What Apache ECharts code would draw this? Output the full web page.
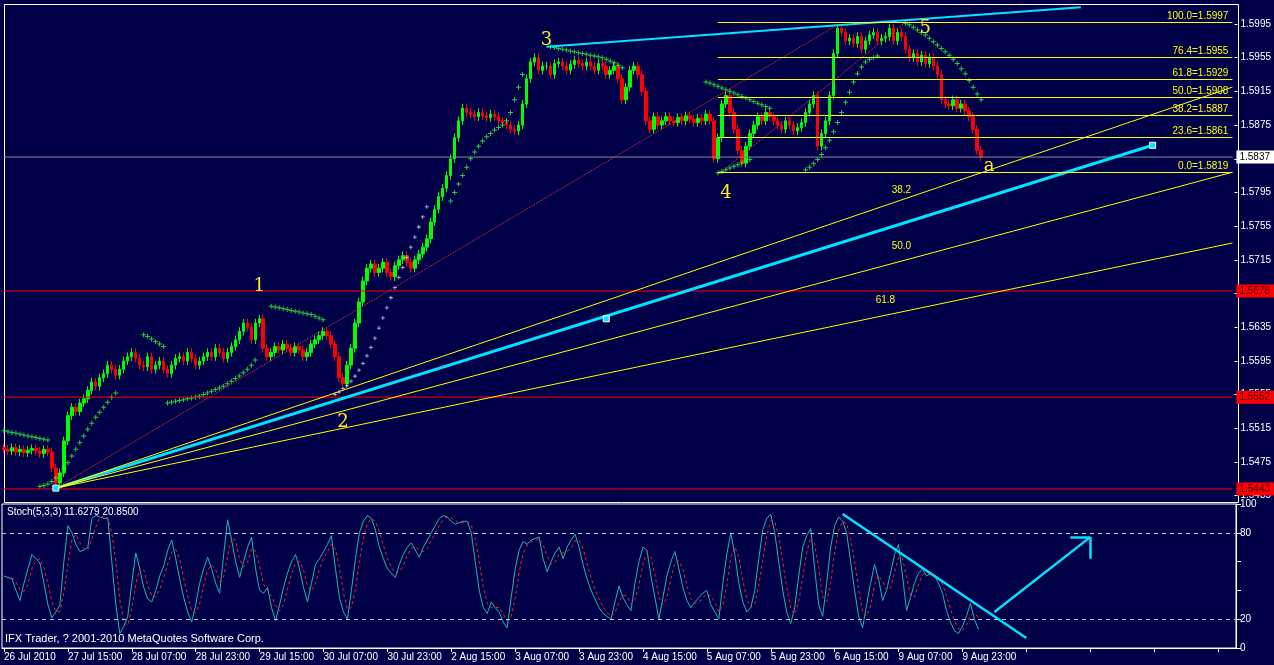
<!DOCTYPE html>
<html><head><meta charset="utf-8">
<script src="https://cdn.jsdelivr.net/npm/echarts@6/dist/echarts.min.js"></script>
<style>html,body{margin:0;padding:0;background:#000048;}#c{width:1274px;height:665px;}</style>
</head><body><div id="c"></div>
<script>
// ---- data ----
const closes = [1.5490,1.5488,1.5492,1.5487,1.5490,1.5486,1.5489,1.5491,1.5488,1.5485,1.5490,1.5487,
1.5468,1.5450,1.5462,1.5500,1.5530,1.5540,1.5535,1.5545,
1.5550,1.5560,1.5570,1.5565,1.5575,1.5580,1.5590,1.5585,1.5578,1.5585,1.5595,
1.5600,1.5605,1.5598,1.5590,1.5588,1.5600,1.5585,
1.5590,1.5595,1.5585,1.5580,1.5590,1.5598,1.5600,1.5595,1.5605,1.5598,1.5590,1.5595,1.5600,1.5605,1.5600,1.5610,1.5605,1.5598,1.5605,1.5612,1.5620,
1.5630,1.5640,1.5635,1.5620,1.5640,1.5645,1.5610,1.5600,
1.5605,1.5612,1.5608,1.5615,1.5610,1.5605,1.5612,1.5608,1.5600,1.5605,1.5615,1.5620,1.5625,1.5630,1.5625,1.5615,1.5600,
1.5575,1.5568,1.5590,1.5610,
1.5640,1.5665,1.5690,1.5705,1.5710,1.5700,
1.5705,1.5712,1.5700,1.5695,1.5708,1.5715,1.5720,1.5712,1.5705,1.5715,1.5722,1.5730,1.5740,
1.5760,1.5775,1.5790,1.5800,1.5815,1.5835,
1.5860,1.5880,1.5895,1.5890,
1.5888,1.5885,1.5890,1.5886,1.5884,1.5888,1.5885,1.5880,1.5878,1.5875,1.5870,
1.5868,1.5875,1.5900,1.5930,1.5950,1.5955,1.5940,1.5945,
1.5945,1.5935,1.5948,1.5950,1.5945,1.5940,1.5947,1.5952,1.5948,1.5945,1.5950,1.5945,1.5940,1.5948,1.5945,1.5935,1.5940,1.5945,1.5930,
1.5905,1.5920,1.5940,1.5945,1.5935,1.5915,
1.5880,1.5870,1.5885,1.5875,1.5880,1.5885,1.5880,1.5878,1.5884,1.5880,1.5886,1.5882,1.5878,1.5883,1.5880,1.5888,1.5880,
1.5835,1.5860,1.5900,
1.5910,1.5890,1.5870,1.5845,1.5830,
1.5850,1.5865,1.5875,1.5885,1.5880,1.5890,1.5885,1.5880,
1.5875,1.5870,1.5880,1.5875,1.5868,1.5872,1.5878,1.5890,1.5900,1.5910,
1.5850,1.5865,1.5880,1.5910,
1.5960,1.5990,1.5985,1.5975,1.5978,1.5972,1.5980,
1.5965,1.5975,1.5982,1.5985,1.5975,1.5978,1.5980,1.5990,1.5975,1.5985,1.5980,
1.5965,1.5955,1.5960,1.5950,1.5958,1.5948,1.5955,1.5945,1.5935,1.5905,1.5900,
1.5898,1.5905,1.5895,1.5900,1.5892,1.5885,1.5870,1.5845,1.5837];

const stochK = [50,49,48,40,33, 45,55,65,62,59, 45,30,21,25,30, 60,85,80,72,67,
68,70,90,92,91, 90,90,60,30,10, 15,22,45,66,55, 42,34,32,40,50,
57,68,75,62,48, 35,25,18,30,45, 55,63,55,45,38, 65,89,75,60,49,
60,70,77,55,40, 38,42,28,19,30, 42,52,60,65,55, 42,32,45,58,62,
67,72,78,55,35, 25,20,40,62,80, 88,92,90,82,70, 62,55,52,49,58,
65,70,73,68,63, 70,75,80,85,90, 92,91,88,86,87, 88,88,80,60,40,
28,24,32,28,25, 18,14,35,55,68, 74,72,75,76,77, 62,53,60,66,70,
62,70,75,79,70, 58,48,40,34,28, 24,22,20,32,43, 35,30,26,45,60,70,
68,50,35,20,35, 50,60,67,55,42, 33,28,32,35,38, 40,30,25,20,45,
65,80,65,45,32, 25,28,40,62,82,90, 93,80,60,40,25, 17,28,50,70,78,
83,55,30,22,45, 70,85,91,88,80, 60,40,22,14,30, 45,58,48,33,40,
52,65,72,50,26, 35,45,52,55,50, 52,50,45,38,26,18, 12,10,15,22,31, 20,13];

const sarStart = [0,9,35,41,67,112,137,176,179,201,226];
const sarVals = [
[1.5512,1.5511,1.5510,1.5509,1.5508,1.5507,1.5506,1.5505,1.5504,1.5503,1.5502,1.5501],
[1.5446,1.5447,1.5449,1.5452,1.5456,1.5461,1.5467,1.5474,1.5482,1.5490,1.5498,1.5506,1.5514,1.5521,1.5528,1.5534,1.5540,1.5546,1.5552,1.5557],
[1.5626,1.5624,1.5621,1.5618,1.5615,1.5612],
[1.5545,1.5546,1.5547,1.5548,1.5549,1.5550,1.5551,1.5552,1.5553,1.5555,1.5557,1.5559,1.5561,1.5563,1.5565,1.5568,1.5571,1.5574,1.5577,1.5581,1.5585,1.5590,1.5596],
[1.5660,1.5659,1.5658,1.5657,1.5656,1.5655,1.5654,1.5653,1.5652,1.5651,1.5650,1.5648,1.5646,1.5644],
[1.5785,1.5795,1.5805,1.5815,1.5825,1.5835,1.5843,1.5850,1.5856,1.5861,1.5865,1.5869,1.5872,1.5875,1.5880,1.5890,1.5905,1.5920,1.5935],
[1.5968,1.5967,1.5966,1.5965,1.5964,1.5963,1.5962,1.5961,1.5960,1.5959,1.5958,1.5957,1.5956,1.5955,1.5953,1.5951,1.5949,1.5946,1.5943],
[1.5926,1.5925,1.5923,1.5921,1.5919,1.5917,1.5915,1.5913,1.5911,1.5909,1.5907,1.5905,1.5903,1.5901,1.5899,1.5897,1.5895],
[1.5818,1.5820,1.5822,1.5824,1.5826,1.5828,1.5830,1.5832,1.5834],
[1.5822,1.5825,1.5829,1.5834,1.5840,1.5848,1.5857,1.5867,1.5878,1.5890,1.5902,1.5914,1.5926,1.5936,1.5944,1.5950,1.5953,1.5955,1.5957],
[1.5996,1.5994,1.5991,1.5988,1.5985,1.5982,1.5978,1.5974,1.5970,1.5966,1.5962,1.5958,1.5953,1.5948,1.5942,1.5936,1.5928,1.5920,1.5912,1.5905]];
const whiteSarStart = 83;
const whiteSar = [1.5555,1.5558,1.5562,1.5566,1.5571,1.5577,1.5584,1.5592,1.5601,1.5611,1.5622,1.5634,1.5646,1.5658,1.5670,1.5682,1.5694,1.5706,1.5718,1.5730,1.5742,1.5754,1.5766,1.5778];

const timeLabels = ['26 Jul 2010','27 Jul 15:00','28 Jul 07:00','28 Jul 23:00','29 Jul 15:00','30 Jul 07:00','30 Jul 23:00','2 Aug 15:00','3 Aug 07:00','3 Aug 23:00','4 Aug 15:00','5 Aug 07:00','5 Aug 23:00','6 Aug 15:00','9 Aug 07:00','9 Aug 23:00'];
const priceMin = 1.5435, priceMax = 1.6015, priceStep = 0.0040;
const fibLevels = [100.0,76.4,61.8,50.0,38.2,23.6,0.0];
const fibPrices = [1.5997,1.5955,1.5929,1.5908,1.5887,1.5861,1.5819];
const redLevels = [1.5678,1.5552,1.5443];
const currentPrice = 1.5837;
const NBARS = 309;

// ---- build ----
const cats = []; for (let i=0;i<NBARS;i++) cats.push(String(i));
const ohlc = closes.map((c,i)=>{
  const o = i===0 ? c+0.0002 : closes[i-1];
  return [o, c, Math.min(o,c)-0.0005, Math.max(o,c)+0.0005];
});
const sarPts = [];
sarStart.forEach((s,k)=>sarVals[k].forEach((v,j)=>sarPts.push([s+j,v])));
const wSarPts = whiteSar.map((v,j)=>[whiteSarStart+j,v]);
const stochD = stochK.map((v,i)=> i<2 ? null : +( (stochK[i]+stochK[i-1]+stochK[i-2])/3 ).toFixed(2));

const Y = '#ffff00', CY = '#00e5ff';
const FONT = 'Liberation Sans';
const seg = (a,b,color,width,type)=>[{coord:a, lineStyle:{color:color,width:width,type:type||'solid'}},{coord:b}];
const lines = [
  seg([136,1.5968],[270,1.6015],CY,2),
  seg([13,1.5444],[288,1.5851],CY,3),
  seg([13,1.5444],[308,1.5920],Y,1),
  seg([13,1.5444],[308,1.5819],Y,1),
  seg([13,1.5444],[308,1.5735],Y,1),
  seg([13,1.5444],[209,1.5994],'#ff3030',1,'dotted'),
  seg([180,1.5820],[226,1.5997],'#ff3030',1,'dotted'),
];
fibLevels.forEach((f,i)=>{
  lines.push([{coord:[178.5,fibPrices[i]],lineStyle:{color:Y,width:1,type:'solid'},
    label:{show:true,position:'insideEndTop',formatter:f.toFixed(1)+'='+fibPrices[i].toFixed(4),color:Y,fontSize:10,fontFamily:FONT,distance:[4,1]}},
    {coord:[308,fibPrices[i]]}]);
});
// horizontal level lines as separate line series
const levelSeries = (p,lineColor,bg,fg)=>({type:'line',xAxisIndex:0,yAxisIndex:0,data:[[0,p],[NBARS-1,p]],symbol:'none',silent:true,z:3,
  lineStyle:{color:lineColor,width:1,type:'solid'},
  endLabel:{show:true,formatter:p.toFixed(4),color:fg,backgroundColor:bg,fontSize:10,fontFamily:FONT,padding:[2,4,1,3],distance:4}});
const levels = redLevels.map(p=>levelSeries(p,'#ff0000','#ff0000','#500000')).concat([levelSeries(currentPrice,'#8a8a8a','#ffffff','#000000')]);

const waves = [['1',63.5,1.5683],['2',85,1.5522],['3',136,1.5976],['4',181,1.5794],['5',231,1.5990],['a',247,1.5826]];
const fanLbl = [['38.2',225,1.5798],['50.0',225,1.5731],['61.8',221,1.5667]];
const mpts = waves.map(w=>({coord:[w[1],w[2]],value:w[0],label:{fontFamily:'DejaVu Serif',fontSize:18,color:'#ffee22'}}))
  .concat(fanLbl.map(w=>({coord:[w[1],w[2]],value:w[0],label:{fontFamily:FONT,fontSize:10,color:Y}})));
const squares = [[13,1.5444],[288,1.5851],[150.5,1.5645]].map(p=>({coord:p,value:'',symbol:'rect',symbolSize:6,itemStyle:{color:CY,borderColor:'#fff',borderWidth:1}}));

const stochLines = [
  {yAxis:80,lineStyle:{color:'#c8c8c8',type:[4,4],width:1},label:{show:false}},
  {yAxis:20,lineStyle:{color:'#c8c8c8',type:[4,4],width:1},label:{show:false}},
  seg([210,93],[256,7],CY,2.5),
  seg([248,25],[272,77],CY,2.5),
  seg([267,77],[272,77],CY,2.5),
  seg([272,77],[272,62],CY,2.5),
];

// price grid placed so that the axis min lands on a tick (frame drawn separately)
const frameTop = 2, frameH = 498, visMin = 1.54299, visMax = 1.60211;
const pxPer = frameH/(visMax-visMin);
const gTop = frameTop + (visMax-priceMax)*pxPer;
const gH = (priceMax-priceMin)*pxPer;

const chart = echarts.init(document.getElementById('c'));
chart.setOption({
  backgroundColor:'#000048', animation:false,
  grid:[{left:2,right:38,top:gTop,height:gH,show:false},
        {left:2,right:38,top:504,height:144,show:true,borderColor:'#fff',borderWidth:1}],
  xAxis:[
    {type:'category',gridIndex:0,data:cats,boundaryGap:true,axisLabel:{show:false},axisTick:{show:false},axisLine:{show:false},splitLine:{show:false}},
    {type:'category',gridIndex:1,data:cats,boundaryGap:true,axisLine:{show:true,lineStyle:{color:'#fff'}},
      axisTick:{show:true,alignWithLabel:true,interval:(i)=>i%16===0,lineStyle:{color:'#fff'},length:4},
      axisLabel:{show:true,interval:(i)=>i%16===0,formatter:(v)=>timeLabels[(+v)/16]||'',color:'#fff',fontSize:10,fontFamily:FONT,align:'left',margin:4}}
  ],
  yAxis:[
    {type:'value',gridIndex:0,position:'right',min:priceMin,max:priceMax,interval:priceStep,splitLine:{show:false},
      axisTick:{show:true,length:3,lineStyle:{color:'#fff'}},axisLine:{show:false},
      axisLabel:{show:true,showMaxLabel:false,color:'#fff',fontSize:10,fontFamily:FONT,margin:6,formatter:(v)=>v.toFixed(4)}},
    {type:'value',gridIndex:1,position:'right',min:0,max:100,interval:20,splitLine:{show:false},axisLine:{show:true,lineStyle:{color:'#fff'}},
      axisTick:{show:true,lineStyle:{color:'#fff'}},
      axisLabel:{color:'#fff',fontSize:10,fontFamily:FONT,margin:4,showMinLabel:true,showMaxLabel:true,formatter:(v)=>(v===0||v===20||v===80||v===100)?String(v):''}}
  ],
  series:[
    {type:'candlestick',xAxisIndex:0,yAxisIndex:0,data:ohlc,barWidth:3,
      itemStyle:{color:'#00ff00',color0:'#ff0000',borderColor:'#00ff00',borderColor0:'#ff0000',borderWidth:1},
      markLine:{silent:true,precision:4,symbol:['none','none'],animation:false,data:lines},
      markPoint:{silent:true,symbol:'rect',symbolSize:1,itemStyle:{color:'rgba(0,0,0,0)'},label:{show:true,formatter:'{c}',position:'inside'},data:mpts.concat(squares)}},
    {type:'scatter',xAxisIndex:0,yAxisIndex:0,data:sarPts,symbol:'path://M2,0H3V2H5V3H3V5H2V3H0V2H2Z',symbolSize:5,itemStyle:{color:'#33ff33'},silent:true},
    {type:'scatter',xAxisIndex:0,yAxisIndex:0,data:wSarPts,symbol:'path://M2,0H3V2H5V3H3V5H2V3H0V2H2Z',symbolSize:4,itemStyle:{color:'#ffffff'},silent:true},
    {type:'line',xAxisIndex:1,yAxisIndex:1,data:stochK,symbol:'none',lineStyle:{color:'#20b8b0',width:1},silent:true,
      markLine:{silent:true,symbol:['none','none'],animation:false,data:stochLines}},
    {type:'line',xAxisIndex:1,yAxisIndex:1,data:stochD,symbol:'none',lineStyle:{color:'#ff2020',width:1,type:[3,3]},silent:true}
  ].concat(levels),
  graphic:[
    {type:'rect',left:2,top:frameTop,z:-1,shape:{width:1234,height:frameH},style:{fill:null,stroke:'#fff',lineWidth:1},silent:true},
    {type:'text',left:7,top:507,style:{text:'Stoch(5,3,3) 11.6279 20.8500',fill:'#fff',font:'10px '+FONT}},
    {type:'text',left:5,top:633,style:{text:'IFX Trader, ? 2001-2010 MetaQuotes Software Corp.',fill:'#fff',font:'11px '+FONT}}
  ]
});
</script></body></html>
